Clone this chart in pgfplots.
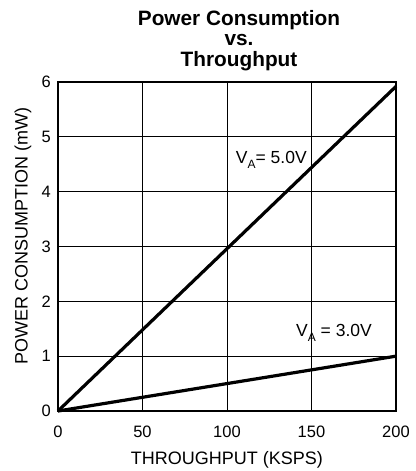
\documentclass[border=0pt]{standalone}
\usepackage{pgfplots}
\pgfplotsset{compat=1.18}
\usepackage{fontspec}
\setmainfont{Liberation Sans}
\newcommand{\VA}{V\raisebox{-5pt}{\fontsize{12}{12}\selectfont A}}
\begin{document}
\begin{tikzpicture}
\begin{axis}[
  scale only axis,
  width=338pt, height=329pt,
  xmin=0, xmax=200, ymin=0, ymax=6,
  xtick={0,50,100,150,200},
  ytick={0,1,2,3,4,5,6},
  grid=major,
  major grid style={black, line width=0.8pt},
  axis line style={black, line width=1.3pt},
  tick style={draw=none},
  /pgf/number format/assume math mode=true,
  ticklabel style={font=\fontsize{16.5}{19}\selectfont, inner sep=0pt},
  xticklabel style={anchor=base, yshift=-26pt},
  yticklabel style={anchor=east, xshift=-7pt},
  xlabel={THROUGHPUT (KSPS)},
  ylabel={POWER CONSUMPTION (mW)},
  label style={font=\fontsize{18}{21}\selectfont, inner sep=0pt},
  xlabel style={at={(axis description cs:0.5,0)}, anchor=base, yshift=-53pt},
  ylabel style={at={(axis description cs:-0.1036,0.533)}, anchor=center, rotate=0},
  title={Power Consumption\\vs.\\Throughput},
  title style={font=\bfseries\fontsize{20.8}{20.5}\selectfont, align=center, inner sep=0pt,
    at={(axis description cs:0.5355,1)}, anchor=south, yshift=5pt},
  clip=false,
]
\addplot[black, line width=3.2pt] coordinates {(0,0) (200,5.92)};
\addplot[black, line width=3.2pt] coordinates {(0,0) (200,1.0)};
\node[anchor=base east, font=\fontsize{17.5}{19}\selectfont, inner sep=0pt] at (axis cs:147.3,4.52) {\VA= 5.0V};
\node[anchor=base east, font=\fontsize{17.5}{19}\selectfont, inner sep=0pt] at (axis cs:185.8,1.35) {\VA\ = 3.0V};
\end{axis}
\path ([shift={(-58pt,-60pt)}]current axis.south west) rectangle ([shift={(20pt,82pt)}]current axis.north east);
\end{tikzpicture}
\end{document}
